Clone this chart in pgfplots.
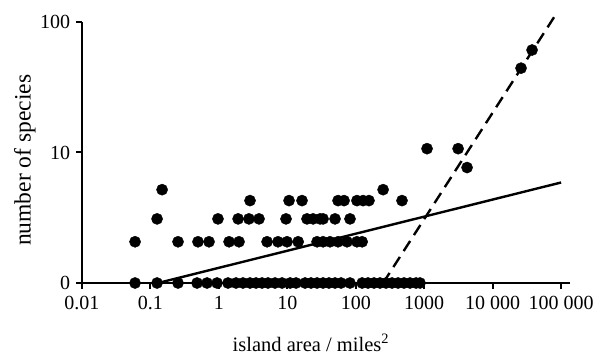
\documentclass[border=0pt]{standalone}
\usepackage{fontspec}
\setmainfont{Liberation Serif}
\usepackage{pgfplots}
\pgfplotsset{compat=1.18}
\usepackage{pgfplotstable}
\pgfplotstableread{
x y
0.0596 1
0.125 1
0.253 1
0.480 1
0.671 1
0.940 1
1.36 1
1.78 1
2.25 1
2.85 1
3.49 1
4.27 1
5.22 1
6.61 1
8.38 1
11.0 1
13.4 1
18.2 1
22.2 1
27.2 1
33.3 1
40.6 1
49.8 1
61.0 1
82.4 1
124 1
151 1
185 1
226 1
277 1
339 1
415 1
508 1
621 1
760 1
869 1
0.0596 2.07
0.253 2.07
0.495 2.07
0.718 2.07
1.41 2.07
1.97 2.07
5.06 2.07
7.31 2.07
9.91 2.07
14.4 2.07
27.2 2.07
33.3 2.07
42.1 2.07
55.1 2.07
74.6 2.07
104 2.07
124 2.07
0.125 3.1
0.970 3.1
1.91 3.1
2.75 3.1
3.86 3.1
9.57 3.1
19.4 3.1
23.8 3.1
30.1 3.1
33.3 3.1
49.8 3.1
82.4 3.1
2.85 4.28
10.6 4.28
16.4 4.28
55.1 4.28
67.5 4.28
104 4.28
128 4.28
156 4.28
474 4.28
0.148 5.19
251 5.19
4230 7.67
1100 10.7
3130 10.7
26000 44.3
37700 61.0
}\islands
\begin{document}
\fontsize{20bp}{24bp}\selectfont
\begin{tikzpicture}
\begin{axis}[
  name=ax,
  scale only axis,
  width=488bp, height=261bp,
  xmode=log, ymode=log,
  xmin=0.01, xmax=135000,
  ymin=1, ymax=100,
  axis lines=left,
  axis line style={-, line width=2.5bp},
  clip=false,
  xtick={0.01,0.1,1,10,100,1000,10000,100000},
  xticklabels={\mbox{0.01},\mbox{0.1},\mbox{1},\mbox{10},\mbox{100},\mbox{1000},\mbox{10\ 000},\mbox{100\ 000}},
  ytick={1,10,100},
  yticklabels={\mbox{0},\mbox{10},\mbox{100}},
  xminorticks=false, yminorticks=false,
  tick align=outside,
  major tick length=6bp,
  tick style={black, line width=2bp},
  tick label style={font=\fontsize{20bp}{24bp}\selectfont},
  xticklabel style={yshift=0bp},
  yticklabel style={xshift=1bp},
  xlabel={island area / miles\textsuperscript{2}},
  ylabel={number of species},
  xlabel style={font=\fontsize{20.5bp}{24bp}\selectfont, at={(axis description cs:0.469,-0.23)}, anchor=center},
  ylabel style={font=\fontsize{23.5bp}{28bp}\selectfont, at={(axis description cs:-0.117,0.47)}, anchor=center},
]
\addplot[black, line width=2.4bp] coordinates {(0.129,1) (100000,5.89)};
\addplot[black, line width=2.4bp, dash pattern=on 12bp off 7bp] coordinates {(251,1) (84500,115)};
\addplot[only marks, mark=*, mark size=5.6bp, black] table {\islands};
\end{axis}
\pgfresetboundingbox
\path[use as bounding box] ([shift={(-82bp,-75bp)}]ax.south west) rectangle ([shift={(519bp,283bp)}]ax.south west);
\end{tikzpicture}
\end{document}
